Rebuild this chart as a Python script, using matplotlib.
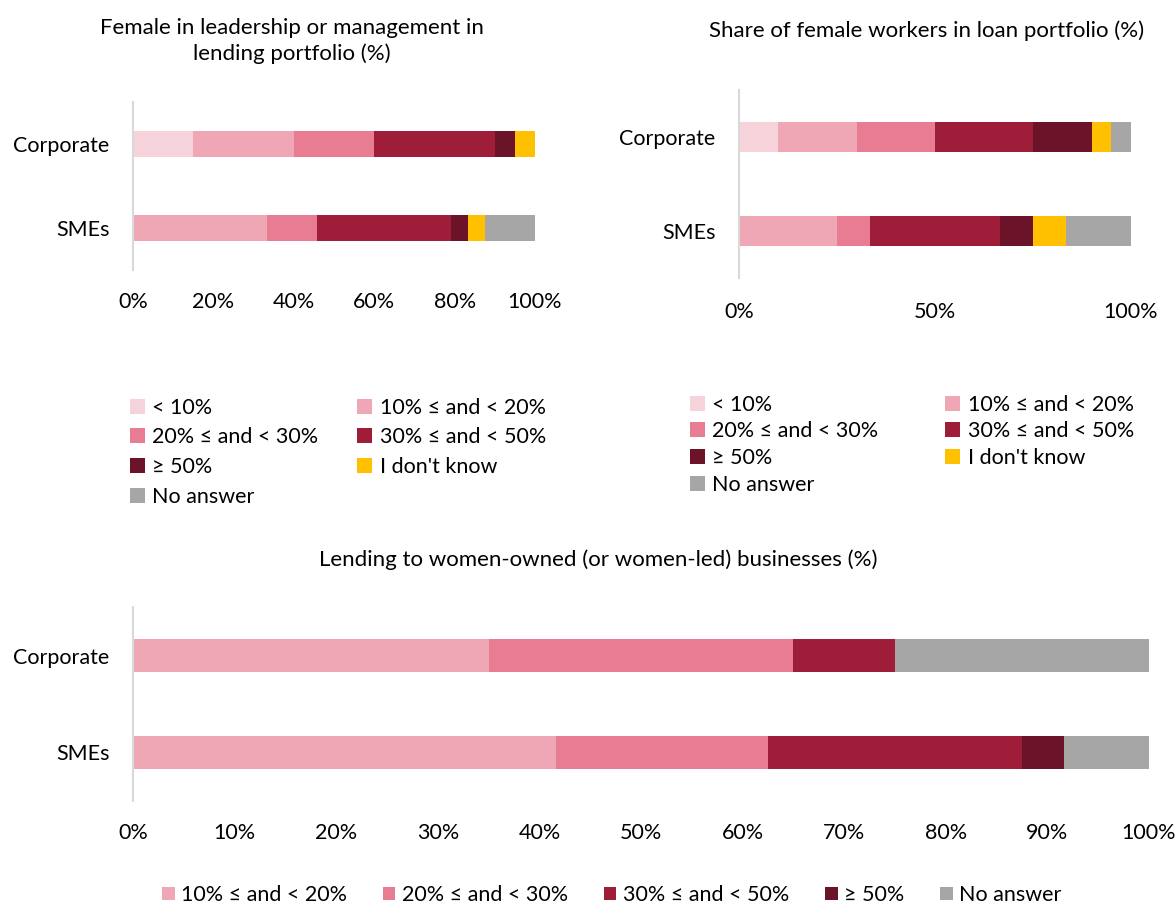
import matplotlib
matplotlib.use("Agg")
import matplotlib.pyplot as plt
import numpy as np

plt.rcParams['font.family'] = ['Lato', 'DejaVu Sans']

W, H = 1176, 905
FS = 15.5

cats = ["Corporate", "SMEs"]

# response categories and colours
bands = ["< 10%", "10% \u2264 and < 20%", "20% \u2264 and < 30%",
         "30% \u2264 and < 50%", "\u2265 50%", "I don't know", "No answer"]
colors = ["#F6D3DB", "#EFA7B6", "#E77C92", "#9E1E39", "#6B1328", "#FFC000", "#A6A6A6"]

# female in leadership / management (shares, %)
lead_corp = [15, 25, 20, 30, 5, 5, 0]
lead_sme = [0, 33.33, 12.5, 33.33, 4.17, 4.17, 12.5]

# female workers in loan portfolio (%)
work_corp = [10, 20, 20, 25, 15, 5, 5]
work_sme = [0, 25, 8.33, 33.33, 8.33, 8.33, 16.67]

# lending to women-owned businesses (%)
lend_bands = ["10% \u2264 and < 20%", "20% \u2264 and < 30%", "30% \u2264 and < 50%",
              "\u2265 50%", "No answer"]
lend_colors = ["#EFA7B6", "#E77C92", "#9E1E39", "#6B1328", "#A6A6A6"]
lend_corp = [35, 30, 10, 0, 25]
lend_sme = [41.67, 20.83, 25, 4.17, 8.33]

# legend is filled column by column -> reorder so it reads row by row
row_order = [0, 2, 4, 6, 1, 3, 5]


def px_axes(fig, left, top, right, bottom):
    return fig.add_axes([left / W, 1 - bottom / H, (right - left) / W, (bottom - top) / H])


def stacked(ax, rows, labels, cols, height, ticks, ticklabels, pad_x, pad_y):
    y = np.arange(len(rows))
    vals = np.array(rows, dtype=float)
    left = np.zeros(len(rows))
    handles = []
    for j, (lab, c) in enumerate(zip(labels, cols)):
        h = ax.barh(y, vals[:, j], left=left, height=height, color=c, label=lab)
        handles.append(h)
        left += vals[:, j]
    ax.set_ylim(1.5, -0.5)
    ax.set_xlim(0, 100)
    ax.set_yticks(y)
    ax.set_yticklabels(cats)
    ax.set_xticks(ticks)
    ax.set_xticklabels(ticklabels)
    for s in ["top", "right", "bottom"]:
        ax.spines[s].set_visible(False)
    ax.spines["left"].set_color("#D9D9D9")
    ax.spines["left"].set_linewidth(1.5)
    ax.tick_params(axis="x", length=0, pad=pad_x, labelsize=FS)
    ax.tick_params(axis="y", length=0, pad=pad_y, labelsize=FS)
    return handles


fig = plt.figure(figsize=(W / 100, H / 100), dpi=100)

# top left panel
ax1 = px_axes(fig, 133, 102, 535, 270)
h1 = stacked(ax1, [lead_corp, lead_sme], bands, colors, 0.31,
             [0, 20, 40, 60, 80, 100], ["0%", "20%", "40%", "60%", "80%", "100%"], 16, 17)
fig.text(292 / W, 1 - 41 / H, "Female in leadership or management in\nlending portfolio (%)",
         ha="center", va="center", fontsize=16, linespacing=1.35)
fig.legend([h1[i] for i in row_order], [bands[i] for i in row_order],
           loc="upper left", bbox_to_anchor=(121 / W, 1 - 389 / H), ncol=2,
           frameon=False, fontsize=FS, handlelength=0.7, handleheight=0.7,
           handletextpad=0.35, columnspacing=1.8, labelspacing=0.45, borderaxespad=0)

# top right panel
ax2 = px_axes(fig, 739, 90, 1131, 278)
h2 = stacked(ax2, [work_corp, work_sme], bands, colors, 0.32,
             [0, 50, 100], ["0%", "50%", "100%"], 17, 17)
fig.text(927 / W, 1 - 31 / H, "Share of female workers in loan portfolio (%)",
         ha="center", va="center", fontsize=16)
fig.legend([h2[i] for i in row_order], [bands[i] for i in row_order],
           loc="upper left", bbox_to_anchor=(681 / W, 1 - 386 / H), ncol=2,
           frameon=False, fontsize=FS, handlelength=0.7, handleheight=0.7,
           handletextpad=0.35, columnspacing=3.1, labelspacing=0.31, borderaxespad=0)

# bottom panel
ax3 = px_axes(fig, 133, 607, 1149, 801)
h3 = stacked(ax3, [lend_corp, lend_sme], lend_bands, lend_colors, 0.33,
             np.arange(0, 101, 10), [f"{v}%" for v in range(0, 101, 10)], 16, 17)
fig.text(598 / W, 1 - 560 / H, "Lending to women-owned (or women-led) businesses (%)",
         ha="center", va="center", fontsize=16)
fig.legend(h3, lend_bands, loc="center left", bbox_to_anchor=(153 / W, 1 - 895 / H), ncol=5,
           frameon=False, fontsize=FS, handlelength=0.6, handleheight=0.6,
           handletextpad=0.3, columnspacing=1.65, borderaxespad=0)

fig.savefig("out.png", dpi=100)
